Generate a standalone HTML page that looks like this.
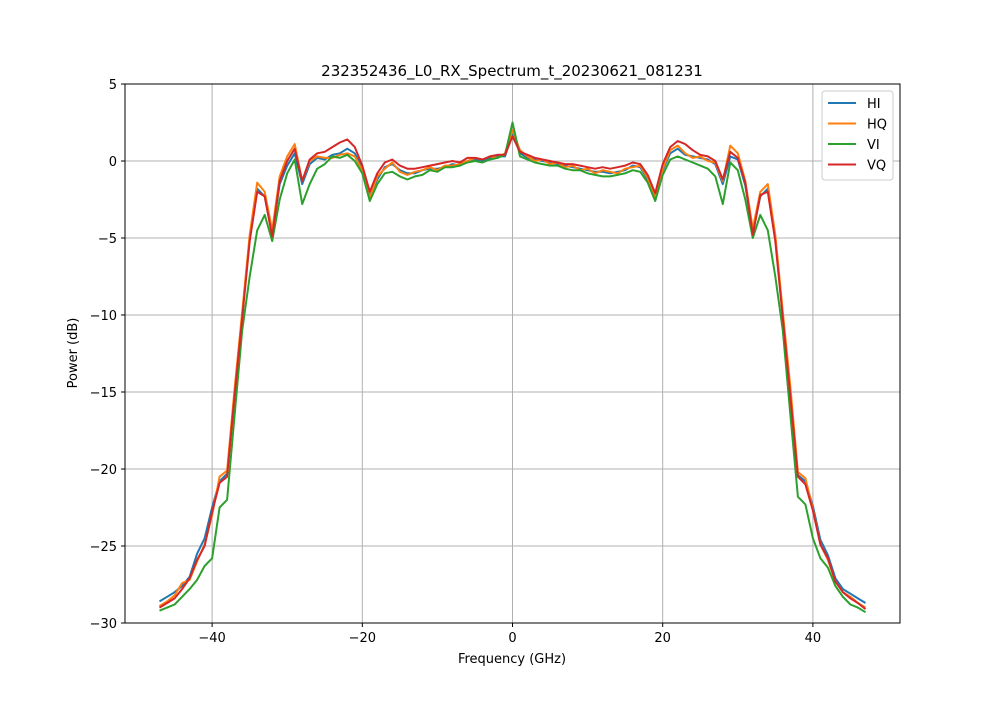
<!DOCTYPE html>
<html><head><meta charset="utf-8"><style>
body{margin:0;background:#fff;}
svg text{font-family:"DejaVu Sans","Liberation Sans",sans-serif;}
</style></head><body>
<svg id="chart" width="1000" height="700" xmlns="http://www.w3.org/2000/svg">
<rect width="1000" height="700" fill="#fff"/>
<text x="512" y="76" text-anchor="middle" font-size="15">232352436_L0_RX_Spectrum_t_20230621_081231</text>
<g id="grid"></g><g id="series"></g>
<rect x="125" y="84" width="775" height="539" fill="none" stroke="#000" stroke-width="1"/>
<g id="ticks"></g>
<text x="512" y="663" text-anchor="middle" font-size="13">Frequency (GHz)</text>
<text transform="translate(77,353) rotate(-90)" text-anchor="middle" font-size="13">Power (dB)</text>
<g id="legend"></g>
</svg>
<script>
const freqs=[];for(let f=-47;f<=47;f++)freqs.push(f);
const xTicks=[-40,-20,0,20,40];
const xTickLabels=["\u221240","\u221220","0","20","40"];
const yTicks=[5,0,-5,-10,-15,-20,-25,-30];
const yTickLabels=["5","0","\u22125","\u221210","\u221215","\u221220","\u221225","\u221230"];
const seriesNames=["HI","HQ","VI","VQ"];
const seriesColors=["#1f77b4","#ff7f0e","#2ca02c","#d62728"];
const hi=[-28.6,-28.3,-28.0,-27.6,-27.0,-25.5,-24.5,-22.5,-20.8,-20.3,-15,-10,-5,-1.8,-2.3,-4.8,-1.5,-0.3,0.5,-1.5,-0.2,0.2,0.1,0.4,0.5,0.8,0.5,-0.5,-2.3,-1.2,-0.4,-0.2,-0.6,-0.8,-0.8,-0.6,-0.5,-0.5,-0.4,-0.2,-0.3,0,0.1,0,0.2,0.3,0.3,1.8,0.5,0.2,0.1,0,-0.1,-0.2,-0.3,-0.4,-0.5,-0.6,-0.7,-0.7,-0.8,-0.7,-0.6,-0.3,-0.4,-1.2,-2.3,-0.6,0.5,0.8,0.4,0.3,0.2,0.1,-0.2,-1.5,0.3,0.1,-1.6,-4.6,-2.3,-1.8,-5,-10,-15,-20.4,-20.8,-22.4,-24.6,-25.6,-27.1,-27.8,-28.1,-28.4,-28.7];
const hq=[-28.9,-28.6,-28.2,-27.4,-27.2,-26.0,-24.9,-23.0,-20.5,-20.1,-14.8,-9.8,-4.8,-1.4,-2.0,-4.5,-1.0,0.3,1.1,-1.3,0,0.3,0.2,0.2,0.4,0.5,0.3,-0.6,-2.4,-1.0,-0.5,-0.1,-0.7,-0.9,-0.7,-0.6,-0.4,-0.6,-0.3,-0.3,-0.2,0,0.2,0.1,0.3,0.2,0.5,2.0,0.7,0.3,0,0.1,-0.2,-0.1,-0.4,-0.3,-0.6,-0.5,-0.8,-0.6,-0.7,-0.8,-0.5,-0.4,-0.3,-1.1,-2.4,-0.5,0.7,1.0,0.5,0.2,0.3,0,-0.1,-1.3,1.0,0.5,-1.3,-4.4,-2.0,-1.5,-4.8,-9.8,-14.7,-20.2,-20.6,-22.6,-24.9,-25.9,-27.3,-28.0,-28.3,-28.7,-29.0];
const vi=[-29.2,-29.0,-28.8,-28.3,-27.8,-27.2,-26.3,-25.8,-22.5,-22.0,-16.5,-11,-7.5,-4.5,-3.5,-5.2,-2.5,-0.8,0.1,-2.8,-1.5,-0.5,-0.2,0.3,0.2,0.4,0,-0.8,-2.6,-1.5,-0.8,-0.7,-1.0,-1.2,-1.0,-0.9,-0.6,-0.7,-0.4,-0.4,-0.3,-0.1,0,-0.1,0.1,0.2,0.4,2.5,0.3,0.1,-0.1,-0.2,-0.3,-0.3,-0.5,-0.6,-0.6,-0.8,-0.9,-1.0,-1.0,-0.9,-0.8,-0.6,-0.7,-1.4,-2.6,-0.9,0.1,0.3,0.1,-0.1,-0.3,-0.5,-1.0,-2.8,-0.1,-0.6,-2.5,-5.0,-3.5,-4.5,-7.5,-11,-16.5,-21.8,-22.3,-24.5,-25.8,-26.4,-27.6,-28.3,-28.8,-29.0,-29.3];
const vq=[-29.0,-28.7,-28.4,-27.8,-27.1,-25.9,-25.0,-22.8,-20.9,-20.5,-15.2,-10.2,-5.2,-2.0,-2.3,-4.9,-1.3,0,0.8,-1.3,0.1,0.5,0.6,0.9,1.2,1.4,0.9,-0.3,-2.0,-0.8,-0.1,0.1,-0.3,-0.5,-0.5,-0.4,-0.3,-0.2,-0.1,0,-0.1,0.2,0.2,0.1,0.3,0.4,0.4,1.6,0.6,0.4,0.2,0.1,0,-0.1,-0.2,-0.2,-0.3,-0.4,-0.5,-0.4,-0.5,-0.4,-0.3,-0.1,-0.2,-0.9,-2.1,-0.2,0.9,1.3,1.1,0.7,0.4,0.3,0,-1.2,0.6,0.2,-1.4,-4.8,-2.2,-2.0,-5.2,-10.2,-15.3,-20.5,-21.0,-22.7,-24.9,-25.8,-27.3,-28.0,-28.4,-28.7,-29.1];
const seriesData=[hi,hq,vi,vq];
const X0=125,X1=900,Y0=84,Y1=623,xmin=-51.6,xmax=51.6,ymin=-30,ymax=5;
const sx=v=>X0+(v-xmin)/(xmax-xmin)*(X1-X0);
const sy=v=>Y1-(v-ymin)/(ymax-ymin)*(Y1-Y0);
const NS="http://www.w3.org/2000/svg";
function mk(tag,attrs,parent){const e=document.createElementNS(NS,tag);for(const k in attrs)e.setAttribute(k,attrs[k]);parent.appendChild(e);return e;}
const grid=document.getElementById('grid'),ticks=document.getElementById('ticks');
xTicks.forEach((t,i)=>{const x=sx(t);
 const g=mk('line',{x1:x,x2:x,y1:Y0,y2:Y1,stroke:'#b0b0b0','stroke-width':1},grid);
 
 
 const tk=mk('line',{x1:x,x2:x,y1:Y1,y2:Y1+4,stroke:'#000'},ticks);
 
 
 const tl=mk('text',{x:x,y:Y1+19,'text-anchor':'middle','font-size':13},ticks);tl.textContent=xTickLabels[i];
 
 });
yTicks.forEach((t,i)=>{const y=sy(t);
 const g=mk('line',{x1:X0,x2:X1,y1:y,y2:y,stroke:'#b0b0b0','stroke-width':1},grid);
 
 
 const tk=mk('line',{x1:X0-4,x2:X0,y1:y,y2:y,stroke:'#000'},ticks);
 
 
 const tl=mk('text',{x:X0-8,y:y+5,'text-anchor':'end','font-size':13},ticks);tl.textContent=yTickLabels[i];
 
 });
const sg=document.getElementById('series');
seriesData.forEach((d,s)=>{const pts=d.map((v,i)=>sx(freqs[i]).toFixed(1)+','+sy(v).toFixed(1)).join(' ');
 const p=mk('polyline',{points:pts,fill:'none',stroke:seriesColors[s],'stroke-width':2,'stroke-linejoin':'round'},sg);
 
 });
const lg=document.getElementById('legend');
const box=mk('rect',{x:822,y:91,width:71,height:89,fill:'#fff',stroke:'#ccc',rx:3},lg);


seriesNames.forEach((n,i)=>{const y=103+i*20.5;
 const l=mk('line',{x1:828,x2:856,y1:y,y2:y,stroke:seriesColors[i],'stroke-width':2},lg);
 
 
 const t=mk('text',{x:867,y:y+5,'font-size':13},lg);t.textContent=n;
 
 });
</script>
</body></html>
